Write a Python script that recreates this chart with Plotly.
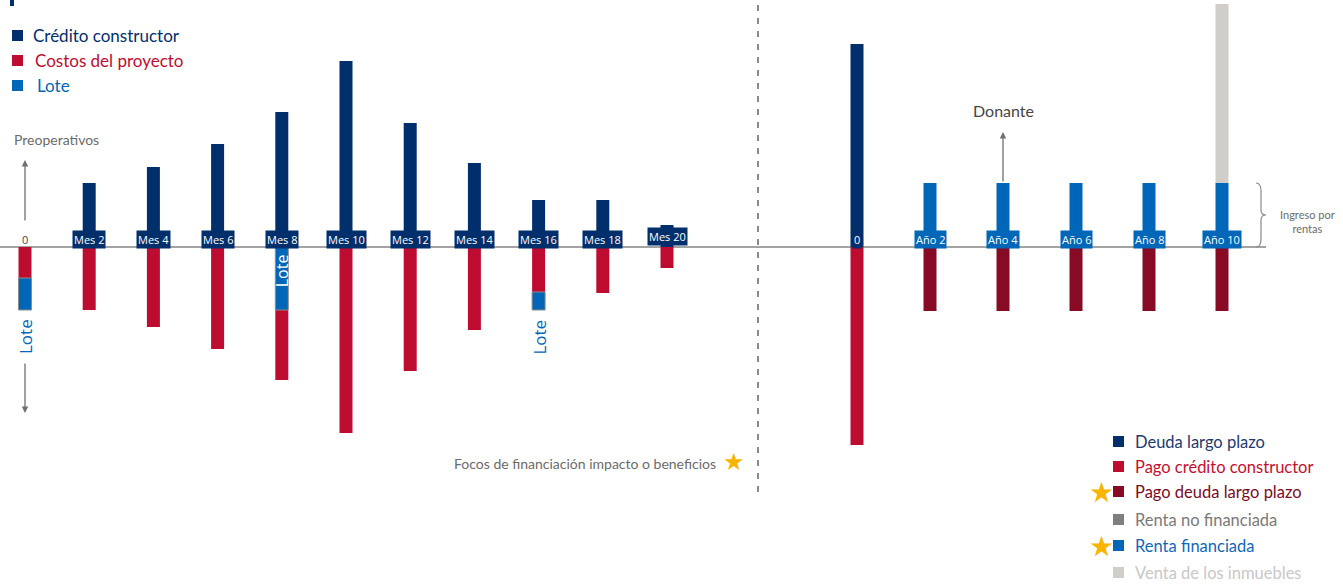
import plotly.graph_objects as go

# ---------------- data ----------------
# Construction phase (monthly)
meses = ["0", "Mes 2", "Mes 4", "Mes 6", "Mes 8", "Mes 10", "Mes 12", "Mes 14", "Mes 16", "Mes 18", "Mes 20"]
credito_constructor = [0, 64, 80, 103, 135, 186, 124, 84, 47, 47, 22]
costos_proyecto = [31, 63, 80, 102, 70, 186, 124, 83, 45, 46, 21]
lote = [32, 0, 0, 0, 63, 0, 0, 0, 18, 0, 0]
lote_junto_al_eje = [False, False, False, False, True, False, False, False, False, False, False]

# Operation phase (yearly)
anios = ["0", "Año 2", "Año 4", "Año 6", "Año 8", "Año 10"]
deuda_largo_plazo = [203, 0, 0, 0, 0, 0]
pago_credito_constructor = [198, 0, 0, 0, 0, 0]
pago_deuda_largo_plazo = [0, 64, 64, 64, 64, 64]
renta_financiada = [0, 64, 64, 64, 64, 64]
renta_no_financiada = [0, 0, 0, 0, 0, 0]
venta_inmuebles = [0, 0, 0, 0, 0, 179]

# ---------------- styles ----------------
NAVY = "#002F6C"
RED = "#BE0C30"
BLUE = "#0067B8"
DARK_RED = "#870B24"
GREY = "#7F7F7F"
LIGHT_GREY = "#D1CECA"
TEXT_GREY = "#6B6B6B"
GOLD = "#F7B500"

W, H = 1343, 585
ZERO_PX = 247                      # vertical position of the baseline
Y_RANGE = [-(H - ZERO_PX), ZERO_PX]

BODY_FONT = "Lato"
LABEL_FONT = "Open Sans"


def px(x):
    """horizontal pixel -> paper fraction"""
    return x / W


def yd(py):
    """vertical pixel -> y data value"""
    return ZERO_PX - py


# left panel: first bar centre at 25px, last at 667px
L_DOM = (0, 700)
l_unit = (len(meses) - 1) / (667 - 25)
l_r0 = -(25 - L_DOM[0]) * l_unit
l_r1 = l_r0 + (L_DOM[1] - L_DOM[0]) * l_unit
# right panel: first bar centre at 857px, last at 1222px
R_DOM = (780, 1300)
r_unit = (len(anios) - 1) / (1222 - 857)
r_r0 = -(857 - R_DOM[0]) * r_unit
r_r1 = r_r0 + (R_DOM[1] - R_DOM[0]) * r_unit

BAR_PX = 13
l_width = BAR_PX * l_unit
r_width = BAR_PX * r_unit

xl = list(range(len(meses)))
xr = list(range(len(anios)))

fig = go.Figure()

# ---- construction phase bars ----
fig.add_trace(go.Bar(x=xl, y=credito_constructor, base=[0] * len(xl), width=l_width,
                     marker=dict(color=NAVY, line=dict(width=0)), xaxis="x", yaxis="y",
                     name="Crédito constructor"))
cost_base = [-l if near else 0 for l, near in zip(lote, lote_junto_al_eje)]
fig.add_trace(go.Bar(x=xl, y=[-c for c in costos_proyecto], base=cost_base, width=l_width,
                     marker=dict(color=RED, line=dict(width=0)), xaxis="x", yaxis="y",
                     name="Costos del proyecto"))
lote_base = [0 if near else -c for c, near in zip(costos_proyecto, lote_junto_al_eje)]
fig.add_trace(go.Bar(x=xl, y=[-v for v in lote], base=lote_base, width=l_width,
                     marker=dict(color=BLUE, line=dict(width=[1 if v else 0 for v in lote], color="#8C8C8C")),
                     xaxis="x", yaxis="y", name="Lote"))

# ---- operation phase bars ----
fig.add_trace(go.Bar(x=xr, y=deuda_largo_plazo, width=r_width, base=[0] * len(xr),
                     marker=dict(color=NAVY, line=dict(width=0)), xaxis="x2", yaxis="y",
                     name="Deuda largo plazo"))
fig.add_trace(go.Bar(x=xr, y=renta_financiada, width=r_width, base=[0] * len(xr),
                     marker=dict(color=BLUE, line=dict(width=0)), xaxis="x2", yaxis="y",
                     name="Renta financiada"))
fig.add_trace(go.Bar(x=xr, y=renta_no_financiada, width=r_width, base=renta_financiada,
                     marker=dict(color=GREY, line=dict(width=0)), xaxis="x2", yaxis="y",
                     name="Renta no financiada"))
fig.add_trace(go.Bar(x=xr, y=venta_inmuebles, width=r_width,
                     base=[a + b for a, b in zip(renta_financiada, renta_no_financiada)],
                     marker=dict(color=LIGHT_GREY, line=dict(width=0)), xaxis="x2", yaxis="y",
                     name="Venta de los inmuebles"))
fig.add_trace(go.Bar(x=xr, y=[-v for v in pago_credito_constructor], width=r_width, base=[0] * len(xr),
                     marker=dict(color=RED, line=dict(width=0)), xaxis="x2", yaxis="y",
                     name="Pago crédito constructor"))
fig.add_trace(go.Bar(x=xr, y=[-v for v in pago_deuda_largo_plazo], width=r_width, base=[0] * len(xr),
                     marker=dict(color=DARK_RED, line=dict(width=0)), xaxis="x2", yaxis="y",
                     name="Pago deuda largo plazo"))

annotations = []
shapes = []

# ---- period labels on the baseline ----
for i, m in enumerate(meses):
    if i == 0:
        annotations.append(dict(x=i, y=8, xref="x", yref="y", text=m, showarrow=False,
                                font=dict(family=LABEL_FONT, size=11, color="#444444")))
    else:
        ylab = 11 if credito_constructor[i] < 30 else 8
        annotations.append(dict(x=i, y=ylab, xref="x", yref="y", text=m, showarrow=False,
                                bgcolor=NAVY, borderpad=1,
                                font=dict(family=LABEL_FONT, size=11, color="white")))
for j, a in enumerate(anios):
    annotations.append(dict(x=j, y=8, xref="x2", yref="y", text=a, showarrow=False,
                            bgcolor=NAVY if j == 0 else BLUE, borderpad=1,
                            font=dict(family=LABEL_FONT, size=11, color="white")))

# ---- "Lote" tags ----
for i, (v, near) in enumerate(zip(lote, lote_junto_al_eje)):
    if v == 0:
        continue
    if near:
        annotations.append(dict(x=i, y=-v / 2 + 8, xref="x", yref="y", text="Lote", textangle=-90,
                                showarrow=False, font=dict(family=LABEL_FONT, size=16, color="white")))
    else:
        annotations.append(dict(x=i, y=yd(337), xref="x", yref="y", text="Lote", textangle=-90,
                                showarrow=False, font=dict(family=LABEL_FONT, size=17, color=BLUE)))

# ---- arrows ----
arrow_style = dict(showarrow=True, arrowhead=2, arrowsize=1, arrowwidth=1.3, arrowcolor="#707070", text="")
annotations.append(dict(x=0, y=yd(160), ax=0, ay=yd(222), xref="x", yref="y", axref="x", ayref="y", **arrow_style))
annotations.append(dict(x=0, y=yd(413), ax=0, ay=yd(362), xref="x", yref="y", axref="x", ayref="y", **arrow_style))
annotations.append(dict(x=2, y=yd(132), ax=2, ay=renta_financiada[2], xref="x2", yref="y",
                        axref="x2", ayref="y", **arrow_style))

annotations.append(dict(x=px(12), y=yd(139), xref="paper", yref="y", text="Preoperativos",
                        xanchor="left", showarrow=False,
                        font=dict(family=BODY_FONT, size=14, color=TEXT_GREY)))
annotations.append(dict(x=2, y=yd(110), xref="x2", yref="y", text="Donante", showarrow=False,
                        xanchor="center", font=dict(family=BODY_FONT, size=16, color="#454545")))
annotations.append(dict(x=px(1307), y=yd(221), xref="paper", yref="y", text="Ingreso por<br>rentas",
                        showarrow=False, xanchor="center", align="center",
                        font=dict(family=BODY_FONT, size=11, color=TEXT_GREY)))
annotations.append(dict(x=px(718), y=yd(463), xref="paper", yref="y",
                        text="Focos de financiación impacto o beneficios", showarrow=False,
                        xanchor="right", font=dict(family=BODY_FONT, size=14, color=TEXT_GREY)))
annotations.append(dict(x=px(734), y=yd(462), xref="paper", yref="y", text="★", showarrow=False,
                        font=dict(family="DejaVu Sans", size=24, color=GOLD)))

# ---- legends ----
top_legend = [("Crédito constructor", NAVY, 35, 31), ("Costos del proyecto", RED, 60, 33), ("Lote", BLUE, 85, 35)]
for label, color, y, xt in top_legend:
    shapes.append(dict(type="rect", xref="paper", yref="y", x0=px(12), x1=px(23),
                       y0=yd(y + 6), y1=yd(y - 5), fillcolor=color, line=dict(width=0)))
    annotations.append(dict(x=px(xt), y=yd(y), xref="paper", yref="y", text=label, showarrow=False,
                            xanchor="left", font=dict(family=BODY_FONT, size=17, color=color)))

bottom_legend = [
    ("Deuda largo plazo", NAVY, "#1D3A70", 442, False),
    ("Pago crédito constructor", RED, "#C4102F", 467, False),
    ("Pago deuda largo plazo", DARK_RED, "#7A0B24", 492, True),
    ("Renta no financiada", GREY, "#7A7A7A", 520, False),
    ("Renta financiada", BLUE, "#1068B8", 546, True),
    ("Venta de los inmuebles", LIGHT_GREY, "#C8C8C8", 573, False),
]
for label, color, tcolor, y, star in bottom_legend:
    shapes.append(dict(type="rect", xref="paper", yref="y", x0=px(1113), x1=px(1124),
                       y0=yd(y + 5), y1=yd(y - 6), fillcolor=color, line=dict(width=0)))
    annotations.append(dict(x=px(1133), y=yd(y), xref="paper", yref="y", text=label, showarrow=False,
                            xanchor="left", font=dict(family=BODY_FONT, size=16.5, color=tcolor)))
    if star:
        annotations.append(dict(x=px(1101), y=yd(y), xref="paper", yref="y", text="★", showarrow=False,
                                xanchor="center", xshift=0,
                                font=dict(family="DejaVu Sans", size=28, color=GOLD)))

# ---- baseline, divider, brace, title marker ----
shapes.append(dict(type="line", xref="paper", yref="y", x0=px(0), x1=px(1266), y0=0, y1=0,
                   line=dict(color="#A3A3A3", width=2), layer="below"))
shapes.append(dict(type="line", xref="paper", yref="y", x0=px(758), x1=px(758), y0=yd(5), y1=yd(492),
                   line=dict(color="#8A8A8A", width=2, dash="6px,7px")))
bx0, bx1, bx2 = px(1256), px(1261), px(1266)
t, m, b = yd(183), yd(215), yd(247)
brace = (f"M {bx0},{t} Q {bx1},{t} {bx1},{t - 8} L {bx1},{m + 5} Q {bx1},{m} {bx2},{m} "
         f"Q {bx1},{m} {bx1},{m - 5} L {bx1},{b + 8} Q {bx1},{b} {bx0},{b}")
shapes.append(dict(type="path", xref="paper", yref="y", path=brace, line=dict(color="#8A8A8A", width=1.2)))
shapes.append(dict(type="rect", xref="paper", yref="y", x0=px(10), x1=px(14), y0=yd(6), y1=yd(0),
                   fillcolor=NAVY, line=dict(width=0)))

axis_common = dict(showgrid=False, zeroline=False, showticklabels=False, ticks="", showline=False,
                   fixedrange=True)
fig.update_layout(
    width=W, height=H,
    margin=dict(l=0, r=0, t=0, b=0),
    paper_bgcolor="white", plot_bgcolor="white",
    barmode="overlay", showlegend=False,
    xaxis=dict(domain=[px(L_DOM[0]), px(L_DOM[1])], range=[l_r0, l_r1], anchor="y", **axis_common),
    xaxis2=dict(domain=[px(R_DOM[0]), px(R_DOM[1])], range=[r_r0, r_r1], anchor="y", **axis_common),
    yaxis=dict(domain=[0, 1], range=Y_RANGE, **axis_common),
    annotations=annotations,
    shapes=shapes,
)

fig.write_html("out.html")
